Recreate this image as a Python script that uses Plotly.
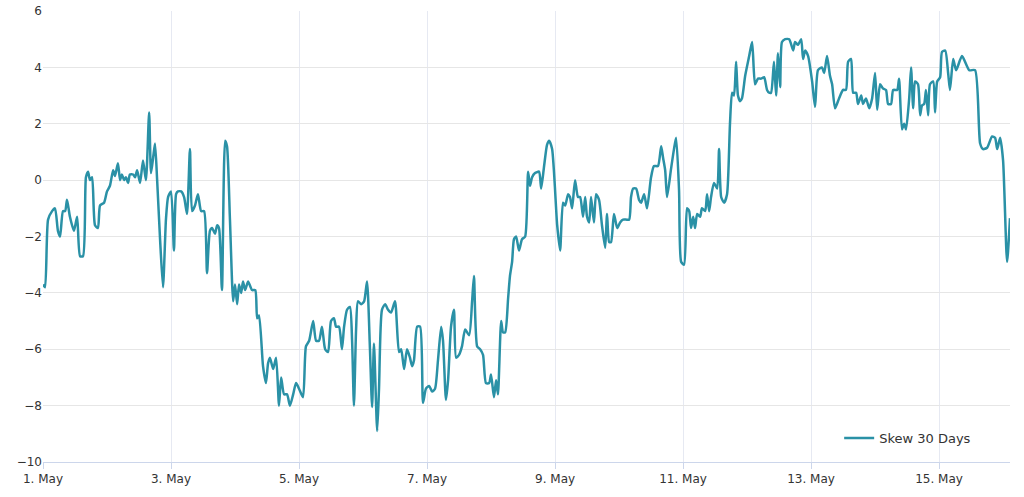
import pandas as pd
import plotly.graph_objects as go

# hours since 1 May 00:00 and skew values
hours = [0, 0.75, 1.9, 3.4, 4.5, 5.6, 6.4, 7.5, 8.3, 9, 10.1, 11.6, 12.8, 13.9, 15, 16.1, 16.9, 17.6, 18.4, 19.5,
         20.6, 21.4, 22.9, 24, 25.1, 26.3, 27, 28.1, 28.9, 29.6, 30.4, 31.1, 31.9, 32.6, 33.8, 34.5, 35.3, 36.4, 37.5, 38.6,
         39.8, 40.5, 41.3, 42, 42.8, 43.9, 45, 46.1, 46.9, 48, 49.1, 49.9, 50.6, 51.8, 52.9, 54, 55.1, 55.9, 57, 58.1,
         59.3, 60.4, 61.5, 62.6, 63.4, 64.5, 65.3, 66, 67.1, 68.3, 69, 70.1, 71.3, 72, 72.8, 73.5, 74.3, 75, 75.8, 76.9,
         78.4, 79.6, 80.3, 81, 82.5, 83.6, 84.4, 85.1, 86.3, 87.4, 88.5, 89.3, 90.4, 91.5, 92.6, 93.8, 94.9, 96, 97.5, 98.6,
         99.8, 101.3, 102.4, 103.5, 104.6, 105.8, 106.9, 108, 109.1, 109.9, 111, 112.1, 112.9, 114, 115.1, 115.9, 116.6, 117.4, 118.1, 119.3,
         120.4, 121.5, 122.6, 123.4, 124.1, 125.3, 126, 127.1, 128.3, 129.4, 130.5, 132, 133.5, 134.3, 135.4, 136.5, 137.6, 138.4, 139.1, 140.3,
         141.4, 142.5, 143.6, 144.8, 145.9, 147, 148.1, 149.3, 150, 151.1, 151.9, 153, 154.1, 154.9, 156, 157.1, 158.3, 159.8, 160.9, 161.6,
         162.8, 163.9, 165, 166.1, 167.3, 168, 169.1, 169.9, 170.6, 171.8, 172.5, 173.3, 174.4, 175.1, 175.9, 176.6, 177.4, 178.5, 179.6, 180.8,
         181.9, 182.6, 183.4, 184.5, 186, 186.8, 187.9, 189, 189.8, 190.9, 192.8, 193.9, 195, 195.8, 196.9, 197.6, 198.4, 199.5, 200.6, 201.4,
         202.5, 203.3, 204, 204.8, 205.5, 206.6, 207.4, 208.5, 209.6, 210.8, 211.5, 212.3, 213, 214.1, 215.3, 216.4, 217.5, 218.6, 219.8, 220.5,
         221.3, 222.4, 223.5, 224.3, 225.4, 226.5, 228, 229.1, 230.6, 231.8, 232.5, 233.3, 234, 235.5, 236.6, 237.4, 238.5, 239.3, 240.4, 241.5,
         242.3, 243, 243.8, 244.5, 245.3, 246.4, 247.1, 248.3, 249, 249.8, 250.5, 251.6, 252.8, 253.5, 254.3, 255.4, 256.5, 257.6, 258.4, 259.1,
         259.9, 260.6, 261.4, 262.1, 263.3, 264.8, 265.9, 267, 268.1, 269.3, 270.4, 271.5, 272.3, 273, 274.1, 274.9, 275.6, 276.4, 277.1, 278.3,
         279.8, 281.3, 282, 283.1, 284.3, 285, 285.8, 286.9, 288.4, 289.5, 290.6, 292.1, 292.9, 294, 295.1, 295.9, 297, 298.5, 300, 301.1,
         301.9, 303, 303.8, 304.9, 305.6, 306.8, 307.5, 308.6, 309.8, 310.9, 312, 312.8, 313.9, 315, 316.1, 316.9, 318, 318.8, 320.3, 321,
         322.1, 322.9, 323.6, 324.8, 325.5, 326.3, 327, 328.1, 328.9, 329.6, 330.4, 331.1, 331.9, 332.6, 333.8, 334.5, 335.3, 336.4, 337.1, 338.3,
         339.4, 340.1, 341.3, 342.4, 344.6, 347.3, 349.5, 351.4, 352.5, 354, 355.9, 357, 357.8, 358.9, 360, 361.5, 362.6]
skew = [-3.7, -3.8, -1.4, -1.1, -1.0, -1.8, -2.0, -1.1, -1.1, -0.7, -1.3, -1.8, -1.3, -2.7, -2.7, 0.1, 0.3, 0, 0.1, -1.6,
        -1.7, -0.9, -0.8, -0.4, -0.2, 0.35, 0.15, 0.6, 0, 0.2, 0, 0.1, -0.1, 0.2, 0.2, 0.1, 0.35, -0.1, 0.7, 0,
        2.4, 0.25, 0.8, 1.3, 0, -2.1, -3.8, -1.4, -0.6, -0.4, -2.5, -0.5, -0.4, -0.4, -0.6, -1.2, 1.1, -1.1, -0.9, -0.5,
        -1.1, -1.1, -3.3, -1.8, -1.7, -1.9, -1.6, -1.7, -3.9, 1.4, 1.2, -1.4, -4.3, -3.7, -4.4, -3.7, -4.0, -3.6, -3.9, -3.6,
        -3.9, -3.9, -4.9, -4.8, -6.6, -7.2, -6.5, -6.3, -6.7, -6.3, -8.0, -7.0, -7.6, -7.6, -8.0, -7.6, -7.2, -7.4, -7.7, -5.9,
        -5.7, -5.0, -5.7, -5.7, -5.2, -6.0, -6.1, -5.0, -4.9, -5.2, -5.2, -6.0, -5.2, -4.6, -4.5, -5.7, -8.0, -5.3, -4.3, -4.4,
        -4.3, -3.6, -6.0, -8.05, -5.8, -8.9, -7.4, -4.6, -4.4, -4.6, -4.7, -4.3, -6.1, -6.0, -6.7, -6.0, -6.3, -6.6, -6.4, -5.2,
        -5.2, -7.9, -7.4, -7.3, -7.5, -7.4, -6.4, -5.2, -5.7, -7.8, -7.1, -5.2, -4.6, -6.3, -6.2, -5.9, -5.3, -5.5, -4.3, -3.4,
        -5.9, -6.0, -6.2, -7.2, -7.2, -6.9, -7.7, -7.1, -7.6, -5.0, -5.4, -5.4, -4.2, -3.4, -2.9, -2.1, -2.0, -2.5, -2.1, -2.0,
        0.3, -0.2, 0.1, 0.25, 0.3, -0.3, 0.5, 1.25, 1.4, 1.1, -1.6, -2.5, -0.8, -0.9, -0.5, -0.6, -1.0, 0, -0.6, -0.6,
        -1.3, -0.6, -1.3, -1.5, -0.6, -1.5, -0.5, -0.7, -1.6, -2.4, -1.2, -2.2, -2.2, -1.2, -1.7, -1.5, -1.4, -1.4, -1.4, -0.6,
        -0.3, -0.3, -0.7, -0.8, -0.5, -1.0, 0.1, 0.5, 0.5, 1.2, 0.8, 0.35, -0.6, 0.4, 1.1, 1.5, -0.35, -2.9, -3.0, -1.0,
        -1.1, -1.7, -1.3, -1.7, -1.2, -1.3, -1.0, -1.1, -0.5, -1.1, -0.6, -0.1, -0.3, 1.1, -0.6, -0.8, -0.5, 2.0, 3.1, 3.0,
        4.2, 3.0, 2.8, 2.9, 3.7, 4.4, 4.9, 3.4, 3.6, 3.6, 3.65, 3.2, 3.1, 3.1, 4.2, 3.0, 4.5, 3.3, 4.9, 5.0,
        5.0, 4.6, 4.9, 4.8, 5.0, 4.3, 4.6, 4.4, 3.5, 2.6, 3.9, 4.0, 3.8, 4.4, 3.7, 3.4, 2.55, 2.9, 3.2, 3.2,
        4.2, 4.3, 3.1, 3.1, 2.7, 3.0, 2.7, 2.9, 2.55, 2.9, 3.8, 2.5, 3.4, 3.25, 3.2, 2.7, 2.7, 3.2, 3.2, 3.6,
        1.8, 2.0, 1.8, 2.9, 4.0, 2.55, 3.5, 3.4, 2.3, 2.65, 2.7, 3.2, 2.3, 3.4, 3.5, 2.4, 3.5, 3.65, 4.55, 4.6,
        3.8, 3.2, 4.3, 3.9, 4.4, 3.9, 3.9, 1.3, 1.1, 1.15, 1.55, 1.5, 1.1, 1.5, 0.7, -2.9, -1.35]

tick_dates = ['2021-05-01', '2021-05-03', '2021-05-05', '2021-05-07', '2021-05-09', '2021-05-11', '2021-05-13', '2021-05-15']
tick_labels = ['1. May', '3. May', '5. May', '7. May', '9. May', '11. May', '13. May', '15. May']

start = pd.Timestamp('2021-05-01')
times = [start + pd.Timedelta(hours=h) for h in hours]

fig = go.Figure()
fig.add_trace(go.Scatter(x=times, y=skew, mode='lines', name='Skew 30 Days',
                         line=dict(color='#2a91a6', width=2.5, shape='spline', smoothing=0.6)))

fig.update_layout(
    width=1024, height=497,
    margin=dict(l=43, r=14, t=11, b=35),
    paper_bgcolor='white', plot_bgcolor='white',
    font=dict(family='DejaVu Sans, Verdana, sans-serif', size=12, color='#333333'),
    showlegend=True,
    legend=dict(x=0.965, y=0.02, xanchor='right', yanchor='bottom', bgcolor='rgba(0,0,0,0)',
                font=dict(size=13, color='#333333')),
)
fig.update_xaxes(range=[start, times[-1]], tickvals=tick_dates, ticktext=tick_labels,
                 showgrid=True, gridcolor='#e6e9f2', showline=True, linecolor='#ccd6eb',
                 ticks='outside', ticklen=6, tickcolor='#ccd6eb', zeroline=False,
                 automargin=False, ticklabeloverflow='allow', tickfont=dict(color='#333333'))
fig.update_yaxes(range=[-10, 6], dtick=2, showgrid=True, gridcolor='#e6e6e6',
                 zeroline=False, ticks='', automargin=False, ticklabeloverflow='allow',
                 tickfont=dict(color='#333333'))

# drop the page's default body margin so the figure fills the window
fig.write_html("out.html", config={'displayModeBar': False},
               post_script="document.body.style.margin='0';document.body.style.overflow='hidden';")
